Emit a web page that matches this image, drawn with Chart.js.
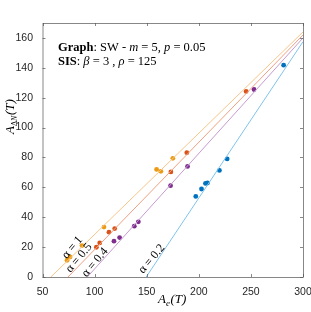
<!DOCTYPE html>
<html>
<head>
<meta charset="utf-8">
<script src="https://cdn.jsdelivr.net/npm/chart.js@4"></script>
<style>
  html, body { margin: 0; padding: 0; background: #fff; }
  #wrap { width: 311px; height: 312px; }
</style>
</head>
<body>
<div id="wrap"><canvas id="chart" width="311" height="312"></canvas></div>
<script>
// values
const alpha1X = [73.6, 76.4, 87.9, 109.0, 159.5, 163.6, 175.1];
const alpha1Y = [11.2, 13.4, 21.0, 33.4, 72.0, 70.7, 79.4];
const alpha05X = [101.7, 104.9, 113.8, 119.3, 173.2, 188.5, 245.4];
const alpha05Y = [19.9, 22.8, 30.0, 32.4, 70.3, 83.2, 124.2];
const alpha04X = [118.6, 124.0, 138.1, 142.0, 172.9, 189.2, 253.0];
const alpha04Y = [24.0, 26.4, 34.0, 36.9, 61.1, 74.0, 125.5];
const alpha02X = [197.1, 202.6, 206.4, 208.3, 219.8, 227.2, 281.4];
const alpha02Y = [53.9, 58.9, 62.6, 62.9, 71.3, 79.0, 141.8];

// fitted lines, two end points each
const fit1X = [58, 300], fit1Y = [0, 164];
const fit05X = [74.5, 300], fit05Y = [0, 162];
const fit04X = [93, 300], fit04Y = [0, 160];
const fit02X = [149.5, 300], fit02Y = [0, 157.5];

const xTicks = [50, 100, 150, 200, 250, 300];
const yTicks = [0, 20, 40, 60, 80, 100, 120, 140, 160];

const lineLabels = ['α = 1', 'α = 0.5', 'α = 0.4', 'α = 0.2'];

function pts(xs, ys) {
    return xs.map((x, i) => ({ x: x, y: ys[i] }));
}

function dots(label, xs, ys, color) {
    return {
        label, data: pts(xs, ys), showLine: false,
        pointRadius: 2.4, pointBackgroundColor: color, pointBorderWidth: 0
    };
}

function fitLine(label, xs, ys, color) {
    return {
        label, data: pts(xs, ys), showLine: true, borderColor: color,
        borderWidth: 1, pointRadius: 0, fill: false
    };
}

const axisColor = '#262626';

// box, inner ticks, texts
const decoPlugin = {
    id: 'deco',
    afterDraw(chart) {
        const ctx = chart.ctx;
        const a = chart.chartArea;
        const xs = chart.scales.x, ys = chart.scales.y;
        ctx.save();
        ctx.strokeStyle = '#555';
        ctx.lineWidth = 0.7;
        ctx.strokeRect(a.left + 0.5, a.top + 0.5, a.right - a.left, a.bottom - a.top);
        ctx.beginPath();
        xTicks.forEach(v => {
            const p = Math.round(xs.getPixelForValue(v)) + 0.5;
            ctx.moveTo(p, a.bottom); ctx.lineTo(p, a.bottom - 3);
            ctx.moveTo(p, a.top); ctx.lineTo(p, a.top + 3);
        });
        yTicks.forEach(v => {
            const p = Math.round(ys.getPixelForValue(v)) + 0.5;
            ctx.moveTo(a.left, p); ctx.lineTo(a.left + 3, p);
            ctx.moveTo(a.right, p); ctx.lineTo(a.right - 3, p);
        });
        ctx.stroke();

        // annotation text
        ctx.fillStyle = '#000';
        ctx.textBaseline = 'alphabetic';
        const serif = '"Liberation Serif", "DejaVu Serif", serif';
        function run(parts, x, y) {
            parts.forEach(p => {
                ctx.font = p[1] + ' 12.5px ' + serif;
                ctx.fillText(p[0], x, y);
                x += ctx.measureText(p[0]).width;
            });
        }
        run([['Graph', 'bold'], [': SW - ', ''], ['m', 'italic'], [' = 5, ', ''],
             ['p', 'italic'], [' = 0.05', '']], 58, 51);
        run([['SIS', 'bold'], [': ', ''], ['β', 'italic'], [' = 3 , ', ''],
             ['ρ', 'italic'], [' = 125', '']], 58, 65);

        // rotated labels along the lines
        const labPos = [[72.5, 247.5], [79, 258], [95, 262.5], [151.7, 259]];
        ctx.font = '12px ' + serif;
        ctx.textAlign = 'center';
        ctx.textBaseline = 'middle';
        labPos.forEach((p, i) => {
            ctx.save();
            ctx.translate(p[0], p[1]);
            ctx.rotate(-50 * Math.PI / 180);
            ctx.fillText(lineLabels[i], 0, 0);
            ctx.restore();
        });

        // axis titles
        ctx.font = 'italic 13px ' + serif;
        ctx.textBaseline = 'alphabetic';
        ctx.textAlign = 'left';
        let x0 = 158;
        ctx.fillText('A', x0, 303);
        let w = ctx.measureText('A').width;
        ctx.font = 'italic 9px ' + serif;
        ctx.fillText('e', x0 + w, 306);
        let w2 = ctx.measureText('e').width;
        ctx.font = 'italic 13px ' + serif;
        ctx.fillText('(T)', x0 + w + w2 + 0.5, 303);

        ctx.save();
        ctx.translate(14, 134);
        ctx.rotate(-Math.PI / 2);
        ctx.font = 'italic 13px ' + serif;
        ctx.fillText('A', 0, 0);
        w = ctx.measureText('A').width;
        ctx.font = '8px ' + serif;
        ctx.fillText('Δ', w, 3);
        w2 = ctx.measureText('Δ').width;
        ctx.font = 'italic 8px ' + serif;
        ctx.fillText('N', w + w2, 3);
        const w3 = ctx.measureText('N').width;
        ctx.font = 'italic 13px ' + serif;
        ctx.fillText('(T)', w + w2 + w3 + 0.5, 0);
        ctx.restore();

        ctx.restore();
    }
};

new Chart(document.getElementById('chart'), {
    type: 'scatter',
    data: {
        datasets: [
            fitLine('fit 1', fit1X, fit1Y, '#F7C68C'),
            fitLine('fit 0.5', fit05X, fit05Y, '#F0A083'),
            fitLine('fit 0.4', fit04X, fit04Y, '#C79BD0'),
            fitLine('fit 0.2', fit02X, fit02Y, '#80C4EC'),
            dots('α = 1', alpha1X, alpha1Y, '#EC9A12'),
            dots('α = 0.5', alpha05X, alpha05Y, '#D95319'),
            dots('α = 0.4', alpha04X, alpha04Y, '#7E2F8E'),
            dots('α = 0.2', alpha02X, alpha02Y, '#0072BD')
        ]
    },
    options: {
        responsive: false,
        animation: false,
        layout: { padding: { top: 23, right: 8, left: 0, bottom: 0 } },
        plugins: {
            legend: { display: false },
            tooltip: { enabled: false }
        },
        scales: {
            x: {
                type: 'linear', min: 50, max: 300,
                afterBuildTicks: s => { s.ticks = xTicks.map(v => ({ value: v })); },
                afterFit: s => { s.height = 35; s.paddingLeft = 0; s.paddingRight = 0; },
                grid: { display: false },
                border: { display: false },
                ticks: { color: axisColor, font: { family: '"Liberation Sans", Arial, sans-serif', size: 10.5 }, padding: 1, maxRotation: 0 }
            },
            y: {
                type: 'linear', min: 0, max: 170,
                afterBuildTicks: s => { s.ticks = yTicks.map(v => ({ value: v })); },
                afterFit: s => { s.width = 42.5; s.paddingTop = 0; s.paddingBottom = 0; },
                grid: { display: false },
                border: { display: false },
                ticks: { color: axisColor, font: { family: '"Liberation Sans", Arial, sans-serif', size: 10.5 }, padding: 1.5 }
            }
        }
    },
    plugins: [decoPlugin]
});
</script>
</body>
</html>
